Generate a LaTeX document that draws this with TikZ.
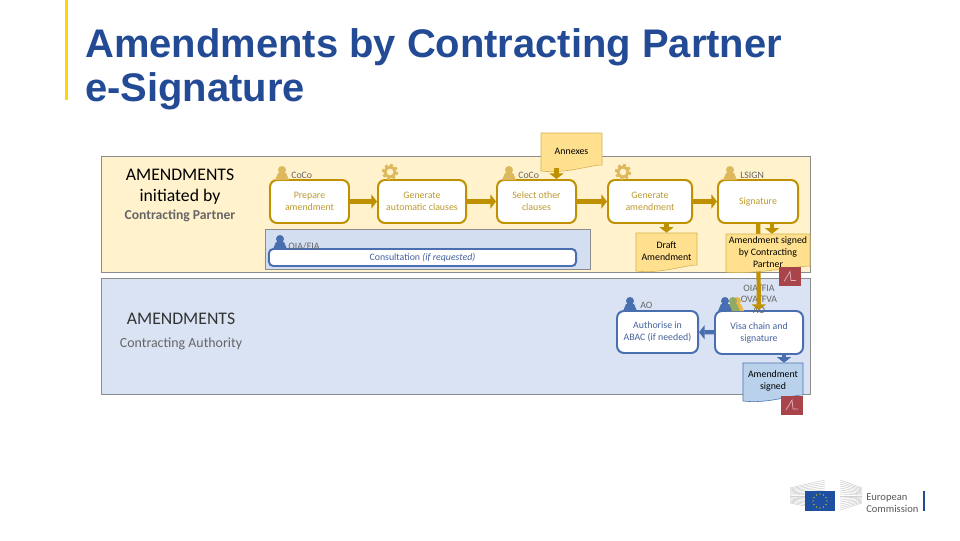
\documentclass[tikz,border=0pt]{standalone}
\usepackage{fontspec}
\setmainfont{Carlito}
\newfontfamily\titlefont{Liberation Sans}
\usepackage{xcolor}
\usetikzlibrary{arrows.meta, positioning, calc}
\definecolor{gold}{HTML}{BF9000}
\definecolor{goldtext}{HTML}{BD9A2E}
\definecolor{goldicon}{HTML}{DDB85C}
\definecolor{bandyellow}{HTML}{FFF2CC}
\definecolor{bandblue}{HTML}{DAE3F3}
\definecolor{innerblue}{HTML}{D3DEF1}
\definecolor{flowblue}{HTML}{4A6FB0}
\definecolor{textblue}{HTML}{44619D}
\definecolor{titleblue}{HTML}{234A94}
\definecolor{docgold}{HTML}{FFE08F}
\definecolor{docblue}{HTML}{B9D1EB}
\definecolor{seal}{HTML}{A9444B}
\definecolor{euflag}{HTML}{1F4FA0}
\definecolor{stafgreen}{HTML}{93AA62}
\definecolor{staforange}{HTML}{E8B84A}
\newcommand{\docnode}[7]{
	\draw[#6] (#2,#3) -- (#4,#3) -- (#4,#5-7)
	.. controls ({#4-12},#5-7) and ({#2+25},#5+2) .. (#2,#5-1) -- cycle;
	\node[docarea, minimum width={(#4-#2)*0.025cm}, minimum height={(#5-#3)*0.025cm}] (#1) at ({(#2+#4)/2},{(#3+#5)/2}) {};
	\node[doclab] (#1lab) at ({(#2+#4)/2},{(#3+#5)/2-1.5}) {#7};
}
\tikzset{
	person/.pic={
		\fill[pic actions] (-7,0) -- (-4,-7) -- (4,-7) -- (7,0) -- cycle;
		\fill[pic actions] (0,-10) circle (4);
	},
	gear/.pic={
		\draw[goldicon, line width=2pt] (0,0) circle (5);
		\draw[goldicon, line width=1.6pt, dash pattern=on 2pt off 1.9pt] (0,0) circle (7);
	},
	sealmark/.pic={
		\fill[seal] (-11,-9.5) rectangle (11,9.5);
		\draw[seal!40!white, line width=0.5pt] (-6,5) -- (0,-5) -- (1,4) -- (6,4);
	}
}
\begin{document}
\begin{tikzpicture}[
		x=0.025cm, y=-0.025cm,
		font=\fontsize{7}{8.5}\selectfont,
		band/.style={draw=black!45, line width=0.6pt},
		taskgold/.style={draw=gold, line width=1.4pt, rounded corners=5pt, fill=white, text=goldtext, align=center, inner sep=0pt},
		taskblue/.style={draw=flowblue, line width=1.4pt, rounded corners=5pt, fill=white, text=textblue, align=center, inner sep=0pt},
		role/.style={text=black!60, inner sep=0pt, align=center},
		flowgold/.style={gold, line width=3pt, -{Triangle[length=4pt, width=10pt]}},
		flowblu/.style={flowblue, line width=3pt, -{Triangle[length=4pt, width=10pt]}},
		docarea/.style={inner sep=0pt},
		doclab/.style={align=center, inner sep=0pt, text=black},
		heading/.style={inner sep=0pt, align=center}
		]
		\useasboundingbox (0,0) rectangle (960,540);
		
		% Title
		\fill[yellow!75!orange] (65,0) rectangle (68,100);
		\node[anchor=west, align=left, inner sep=0pt, text=titleblue, font=\titlefont\bfseries\fontsize{28.4}{31.5}\selectfont] (title) at (85,69) {Amendments by Contracting Partner\\e-Signature};
		
		% Bands
		\draw[band, fill=bandyellow] (101,156) rectangle (810,272);
		\draw[band, fill=bandblue] (101,278) rectangle (810,394);
		\draw[band, fill=innerblue] (265,229) rectangle (590,269);
		
		% Band headings
		\node[heading, font=\fontsize{12.6}{14}\selectfont] (headA) at (180,175) {AMENDMENTS};
		\node[heading, font=\fontsize{12.6}{14}\selectfont] (headB) at (180,197) {initiated by};
		\node[heading, text=black!60, font=\bfseries\fontsize{9.7}{11}\selectfont] (headC) at (180,216) {Contracting Partner};
		\node[heading, text=black!80, font=\fontsize{12.6}{14}\selectfont] (headD) at (181,319) {AMENDMENTS};
		\node[heading, text=black!60, font=\fontsize{9.9}{11}\selectfont] (headE) at (181,344) {Contracting Authority};
		
		% Tasks
		\node[taskgold, minimum width=1.975cm, minimum height=1.075cm] (prepare) at (309.5,201.5) {Prepare\\amendment};
		\node[taskgold, minimum width=2.2cm, minimum height=1.075cm] (genauto) at (422,201.5) {Generate\\automatic clauses};
		\node[taskgold, minimum width=1.975cm, minimum height=1.075cm] (select) at (536.5,201.5) {Select other\\clauses};
		\node[taskgold, minimum width=2.1cm, minimum height=1.075cm] (genamend) at (650,201.5) {Generate\\amendment};
		\node[taskgold, minimum width=2cm, minimum height=1.075cm] (signature) at (758,201.5) {Signature};
		\node[taskblue, rounded corners=3pt, minimum width=7.675cm, minimum height=0.425cm] (consult) at (422.5,257.5) {Consultation {\itshape (if requested)}};
		\node[taskblue, minimum width=2.025cm, minimum height=1.05cm] (authorise) at (657.5,332) {Authorise in\\ABAC (if needed)};
		\node[taskblue, minimum width=2.2cm, minimum height=1.075cm] (visa) at (759,332.5) {Visa chain and\\signature};
		
		% Roles and icons
		\pic[fill=goldicon] at (282,180) {person};
		\pic[fill=goldicon] at (509,180) {person};
		\pic[fill=goldicon] at (730,180) {person};
		\pic[fill=flowblue] at (280,249) {person};
		\pic[fill=flowblue] at (630,311) {person};
		\pic[fill=staforange] at (737,311) {person};
		\pic[fill=stafgreen] at (733,311) {person};
		\pic[fill=flowblue] at (725,311) {person};
		\pic at (390,172) {gear};
		\pic at (623,172) {gear};
		\node[role, anchor=west] (role1) at (291,175) {CoCo};
		\node[role, anchor=west] (role2) at (518,175) {CoCo};
		\node[role, anchor=west] (role3) at (740,175) {LSIGN};
		\node[role, anchor=west] (role4) at (288,246) {OIA/FIA};
		\node[role, anchor=west] (role5) at (640,305) {AO};
		\node[role, font=\fontsize{7}{8}\selectfont] (role6) at (759,299) {OIA/FIA\\OVA/FVA\\AO};
		
		% Flow
		\draw[flowgold] (prepare) -- (genauto);
		\draw[flowgold] (genauto) -- (select);
		\draw[flowgold] (select) -- (genamend);
		\draw[flowgold] (genamend) -- (signature);
		\draw[flowgold] (signature) -- (visa);
		\draw[flowblu] (visa) -- (authorise);
		
		% Documents
		\docnode{annexes}{541}{133}{602}{172}{draw=gold!70, fill=docgold}{Annexes}
		\docnode{draft}{636}{233}{697}{272}{draw=gold!70, fill=docgold}{Draft\\Amendment}
		\docnode{signedcp}{726}{234}{810}{273}{draw=gold!70, fill=docgold}{Amendment signed\\by Contracting\\Partner}
		\docnode{signedca}{743}{363}{803}{402}{draw=flowblue, fill=docblue}{Amendment\\signed}
		\pic at (790,276.5) {sealmark};
		\pic at (792,405) {sealmark};
		
		% Flow into documents
		\draw[flowgold] ([xshift=-0.375cm, yshift=0.1cm]annexes.south) -- ([xshift=-0.375cm]annexes.south |- select.north);
		\draw[flowgold] (draft.north |- genamend.south) -- (draft.north);
		\draw[flowgold] ([xshift=0.1cm]signedcp.north |- signature.south) -- ([xshift=0.1cm]signedcp.north);
		\draw[flowblu] ([xshift=0.275cm]signedca.north |- visa.south) -- ([xshift=0.275cm]signedca.north);
		
		% Logo
		\foreach \y in {480,482,...,510}{
			\draw[black!18, line width=0.4pt] (790,{496+(\y-496)*0.5}) -- (825,{\y});
			\draw[black!18, line width=0.4pt] (840,{\y}) -- (862,{496+(\y-496)*0.5});
		}
		\fill[euflag] (805,491) rectangle (835,511);
		\foreach \a in {0,30,...,330}{
			\fill[yellow!90!orange] ($(820,501)+(\a:7)$) circle (0.6);
		}
		\node[anchor=west, inner sep=0pt, align=left, text=black!65, font=\fontsize{7.5}{8.2}\selectfont] (logotext) at (866,503) {European\\Commission};
		\fill[titleblue] (923,491) rectangle (925,511);
		
	\end{tikzpicture}
\end{document}
